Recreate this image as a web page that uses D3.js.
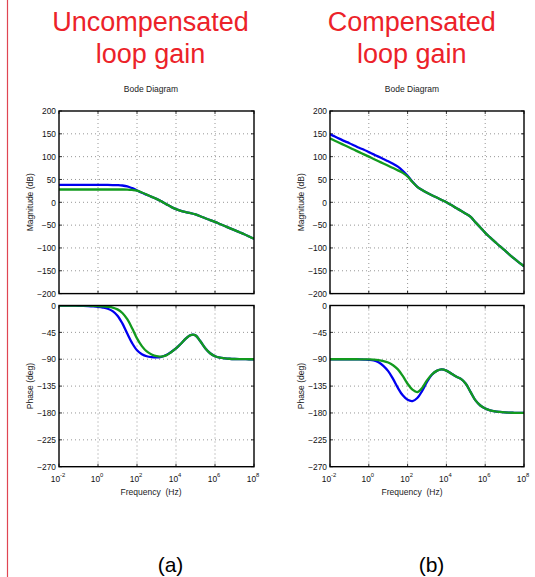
<!DOCTYPE html>
<html>
<head>
<meta charset="utf-8">
<script src="https://cdn.jsdelivr.net/npm/d3@7"></script>
<style>
  html, body { margin: 0; padding: 0; background: #fff; }
  svg { display: block; font-family: "Liberation Sans", Arial, Helvetica, sans-serif; }
</style>
</head>
<body>
<svg id="chart" width="535" height="577"></svg>
<script>
// ---------------- DATA ----------------
// log10 of frequency (Hz)
const logFreq = [-2,-1.75,-1.5,-1.25,-1,-0.75,-0.5,-0.25,0,0.25,0.5,0.75,1,1.25,1.5,1.75,2,2.25,2.5,2.75,3,3.25,3.5,3.75,4,4.25,4.5,4.75,5,5.25,5.5,5.75,6,6.25,6.5,6.75,7,7.25,7.5,7.75,8];

// (a) Uncompensated loop gain
const uncompMagBlue  = [38,38,38,38,38,38,38,38,38,38,38,37.8,37.5,36.8,35,31,26,21,16.5,12,7.5,2,-4,-10,-15,-19,-21.5,-23.5,-26.5,-30.5,-35,-39,-43,-47.5,-52,-56.5,-61,-65.5,-70,-75,-80];
const uncompMagGreen = [28,28,28,28,28,28,28,28,28,28,28,28,28,28,27.8,27,25.5,21.5,16.8,12,7.5,2,-4,-10,-15,-19,-21.5,-23.5,-26.5,-30.5,-35,-39,-43,-47.5,-52,-56.5,-61,-65.5,-70,-75,-80];
const uncompPhaseBlue  = [-0.1,-0.1,-0.2,-0.3,-0.4,-0.6,-0.9,-1.4,-2.2,-3.5,-5.5,-9.5,-17,-30,-47,-63,-75,-81.5,-85,-86.5,-87,-86,-83,-78,-72,-64,-55.5,-49.5,-50,-60,-71.5,-80,-85,-87.5,-88.5,-89.2,-89.6,-89.8,-89.9,-90,-90];
const uncompPhaseGreen = [0,0,0,-0.1,-0.1,-0.2,-0.3,-0.5,-0.8,-1.3,-2.2,-3.5,-6.5,-12.5,-23,-38,-55,-68,-77,-82,-85,-85.5,-83.5,-78.3,-72,-64,-55.5,-49.5,-50,-60,-71.5,-80,-85,-87.5,-88.5,-89.2,-89.6,-89.8,-89.9,-90,-90];

// (b) Compensated loop gain
const compMagBlue  = [149,144,139,134,129.5,124.5,119.5,115,110,105,100,95,90,84.5,78,69,58,45,34,27,21,15.5,10.5,5.2,0,-6,-12.5,-18.5,-25,-32,-44,-55,-67,-77,-86.5,-96,-105,-114.5,-123.5,-132,-140];
const compMagGreen = [140,135,130,125,120,115,110,105,100,95,90,85,80,75,70,64.5,56.5,44.5,34,27,21,15.5,10.5,5.2,0,-6,-12.5,-18.5,-25,-32,-44,-55,-67,-77,-86.5,-96,-105,-114.5,-123.5,-132,-140];
const compPhaseBlue  = [-90,-90,-90,-90,-90.1,-90.2,-90.3,-90.6,-91,-92,-95,-101,-110,-123,-138,-150.5,-158,-160,-155,-143,-128,-116,-109.5,-107,-109,-114,-119,-123,-131,-145,-159,-167.5,-172.5,-175.5,-177.3,-178.3,-179,-179.4,-179.7,-179.9,-180];
const compPhaseGreen = [-90,-90,-90,-90,-90,-90,-90.1,-90.2,-90.3,-90.7,-91.5,-93,-95.5,-100,-107,-118,-131,-141,-145,-138,-125.5,-115.5,-109.5,-107,-109,-114,-119,-123,-131,-145,-159,-167.5,-172.5,-175.5,-177.3,-178.3,-179,-179.4,-179.7,-179.9,-180];

// tick labels
const magTicks = [200,150,100,50,0,-50,-100,-150,-200];
const phaseTicks = [0,-45,-90,-135,-180,-225,-270];
const freqTickExps = [-2,0,2,4,6,8];

const titles = [["Uncompensated","loop gain"],["Compensated","loop gain"]];
const subLabels = ["(a)","(b)"];
const seriesColors = ["#0000f0","#129a1e"];

// ---------------- DRAW ----------------
const svg = d3.select("#chart");
const FONT_SMALL = 8.4;

// left red rule
svg.append("line").attr("x1",7.5).attr("x2",7.5).attr("y1",0).attr("y2",577)
  .attr("stroke","#e04552").attr("stroke-width",1.2);

const panels = [
  {x0:59, x1:254, cx:151, mag:[uncompMagBlue,uncompMagGreen], ph:[uncompPhaseBlue,uncompPhaseGreen], title:titles[0], sub:subLabels[0], subX:170.5},
  {x0:330, x1:524, cx:412, mag:[compMagBlue,compMagGreen], ph:[compPhaseBlue,compPhaseGreen], title:titles[1], sub:subLabels[1], subX:431.5}
];

const magTop = 111, magBot = 293.6, phTop = 305.5, phBot = 466.7;

panels.forEach((p, pi) => {
  const g = svg.append("g");
  const x = d3.scaleLog().domain([1e-2, 1e8]).range([p.x0, p.x1]);
  const yMag = d3.scaleLinear().domain([-200, 200]).range([magBot, magTop]);
  const yPh = d3.scaleLinear().domain([-270, 0]).range([phBot, phTop]);

  // titles
  const titleCx = pi === 0 ? 150.5 : 411.7;
  p.title.forEach((t, i) => {
    g.append("text").attr("x", titleCx).attr("y", 31 + i * 32)
      .attr("text-anchor","middle").attr("font-size", 27).attr("fill","#ec2229").text(t);
  });
  g.append("text").attr("x", p.cx).attr("y", 92).attr("text-anchor","middle")
    .attr("font-size", 8.5).attr("fill","#222").text("Bode Diagram");

  const subplots = [
    {y: yMag, ticks: magTicks, data: p.mag, label: "Magnitude (dB)", top: magTop, bot: magBot, xlabels: false},
    {y: yPh, ticks: phaseTicks, data: p.ph, label: "Phase (deg)", top: phTop, bot: phBot, xlabels: true}
  ];

  subplots.forEach((sp, si) => {
    const sg = g.append("g");
    const clipId = "clip" + pi + "_" + si;
    sg.append("clipPath").attr("id", clipId).append("rect")
      .attr("x", p.x0).attr("y", sp.top).attr("width", p.x1 - p.x0).attr("height", sp.bot - sp.top);

    // grid
    const grid = sg.append("g").attr("stroke","#8a8a8a").attr("stroke-width",0.9).attr("stroke-dasharray","1,3");
    freqTickExps.slice(1, -1).forEach(e => {
      grid.append("line").attr("x1", x(10 ** e)).attr("x2", x(10 ** e)).attr("y1", sp.top).attr("y2", sp.bot);
    });
    sp.ticks.slice(1, -1).forEach(v => {
      grid.append("line").attr("x1", p.x0).attr("x2", p.x1).attr("y1", sp.y(v)).attr("y2", sp.y(v));
    });

    // inward ticks
    const tk = sg.append("g").attr("stroke","#000").attr("stroke-width",0.8);
    freqTickExps.forEach(e => {
      const xx = x(10 ** e);
      tk.append("line").attr("x1", xx).attr("x2", xx).attr("y1", sp.top).attr("y2", sp.top + 3);
      tk.append("line").attr("x1", xx).attr("x2", xx).attr("y1", sp.bot).attr("y2", sp.bot - 3);
    });
    sp.ticks.forEach(v => {
      const yy = sp.y(v);
      tk.append("line").attr("x1", p.x0).attr("x2", p.x0 + 3).attr("y1", yy).attr("y2", yy);
      tk.append("line").attr("x1", p.x1).attr("x2", p.x1 - 3).attr("y1", yy).attr("y2", yy);
    });

    // y axis labels via d3 axis
    const ax = d3.axisLeft(sp.y).tickValues(sp.ticks).tickSize(0).tickPadding(3).tickFormat(d3.format("d"));
    const axg = sg.append("g").attr("transform", `translate(${p.x0},0)`).call(ax);
    axg.select(".domain").remove();
    axg.selectAll("text").attr("font-size", FONT_SMALL).attr("fill", "#111").attr("font-family", null);

    // curves
    const line = d3.line()
      .x((d, i) => x(10 ** logFreq[i]))
      .y(d => sp.y(d))
      .curve(d3.curveCatmullRom.alpha(0.5));
    sp.data.forEach((arr, k) => {
      sg.append("path").attr("clip-path", `url(#${clipId})`).attr("d", line(arr))
        .attr("fill","none").attr("stroke", seriesColors[k]).attr("stroke-width", 2.3)
        .attr("stroke-linejoin","round");
    });

    // frame
    sg.append("rect").attr("x", p.x0).attr("y", sp.top).attr("width", p.x1 - p.x0).attr("height", sp.bot - sp.top)
      .attr("fill","none").attr("stroke","#000").attr("stroke-width",1.4);

    // y label
    const ly = (sp.top + sp.bot) / 2;
    sg.append("text").attr("transform", `translate(${p.x0 - 26.5},${ly}) rotate(-90)`)
      .attr("text-anchor","middle").attr("font-size", 8.5).attr("fill","#222").text(sp.label);

    if (sp.xlabels) {
      freqTickExps.forEach(e => {
        const t = sg.append("text").attr("x", x(10 ** e) - 1).attr("y", sp.bot + 14.8)
          .attr("text-anchor","middle").attr("font-size", FONT_SMALL).attr("fill","#111");
        t.append("tspan").text("10");
        t.append("tspan").attr("dy", -5).attr("font-size", 5.8).text(e);
      });
      sg.append("text").attr("x", p.cx).attr("y", sp.bot + 28.5).attr("text-anchor","middle")
        .attr("font-size", 8.5).attr("fill","#222").attr("xml:space","preserve")
        .style("white-space","pre").text("Frequency  (Hz)");
    }
  });

  g.append("text").attr("x", p.subX).attr("y", 572).attr("text-anchor","middle")
    .attr("font-size", 21).attr("fill","#000").text(p.sub);
});
</script>
</body>
</html>
